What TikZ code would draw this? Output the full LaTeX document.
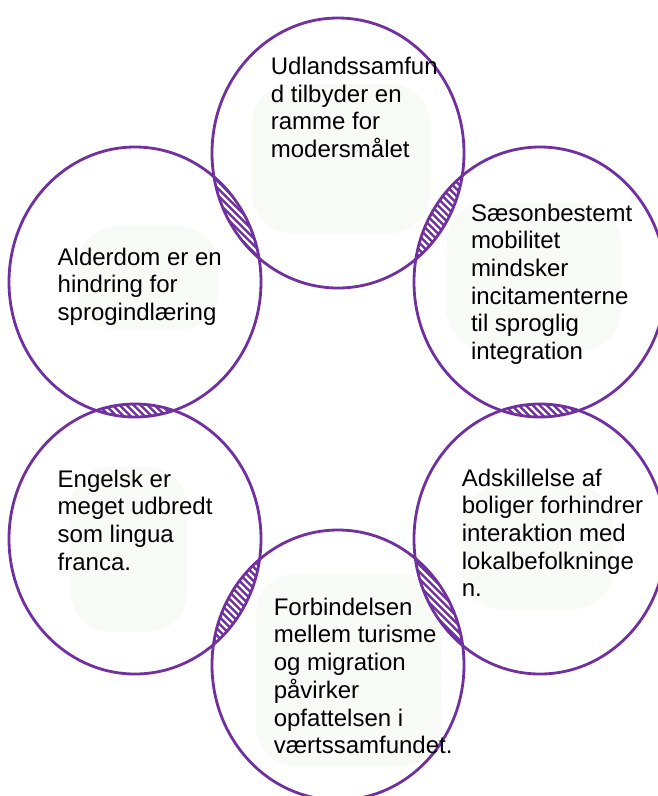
\documentclass[tikz,border=0pt]{standalone}
\usepackage{fontspec}
\setmainfont{Liberation Sans}
\definecolor{ringpurple}{HTML}{7030A0}
\definecolor{blobtint}{HTML}{F8FAF6}
\tikzset{
  ring/.style={draw=ringpurple, line width=2.8pt},
  label/.style={anchor=north west, inner sep=0pt, align=left,
    font=\fontsize{24}{27.7}\selectfont, text=black},
  blob/.style={fill=blobtint, rounded corners=40pt},
}
\newcommand{\firstline}{\rule{0pt}{20pt}}
\newcommand{\ellipsepath}[1]{(#1) ellipse [x radius=126, y radius=135]}
\begin{document}
\begin{tikzpicture}[x=1pt, y=-1pt]
\useasboundingbox (0,0) rectangle (658,796);
\fill[white] (0,0) rectangle (658,796);

% centres of the six rings
\coordinate (cT)  at (338,153);
\coordinate (cTR) at (540,282);
\coordinate (cBR) at (540,539);
\coordinate (cB)  at (338,665);
\coordinate (cBL) at (135,539);
\coordinate (cTL) at (135,282);

% faint tinted patches behind the texts
\fill[blob] (252,84) rectangle (430,233);
\fill[blob] (447,203) rectangle (621,350);
\fill[blob] (78,226) rectangle (218,330);
\fill[blob] (71,467) rectangle (187,632);
\fill[blob] (462,485) rectangle (613,609);
\fill[blob] (256,574) rectangle (441,766);

% hatched overlaps between neighbouring rings
\foreach \a/\b in {cT/cTR, cTR/cBR, cBR/cB, cB/cBL, cBL/cTL, cTL/cT}{
  \begin{scope}
    \clip \ellipsepath{\a};
    \clip \ellipsepath{\b};
    \fill[ringpurple] (0,0) rectangle (658,796);
    \foreach \k in {-800,-793,...,660}{
      \draw[white, line width=2.3pt] (\k,0) -- (\k+800,800);
    }
  \end{scope}
}

% the rings
\foreach \c in {cT, cTR, cBR, cB, cBL, cTL}{
  \draw[ring] \ellipsepath{\c};
}

% texts
\node[label] (tT) at (270.7,54.3) {\firstline Udlandssamfun\\d tilbyder en\\ramme for\\modersmålet};
\node[label] (tTR) at (470.8,200.8) {\firstline Sæsonbestemt\\mobilitet\\mindsker\\incitamenterne\\til sproglig\\integration};
\node[label] (tTL) at (57.5,245) {\firstline Alderdom er en\\hindring for\\sprogindlæring};
\node[label] (tBL) at (57.5,467) {\firstline Engelsk er\\meget udbredt\\som lingua\\franca.};
\node[label] (tBR) at (461.6,465.8) {\firstline Adskillelse af\\boliger forhindrer\\interaktion med\\lokalbefolkninge\\n.};
\node[label] (tB) at (273.6,595) {\firstline Forbindelsen\\mellem turisme\\og migration\\påvirker\\opfattelsen i\\værtssamfundet.};
\end{tikzpicture}
\end{document}
